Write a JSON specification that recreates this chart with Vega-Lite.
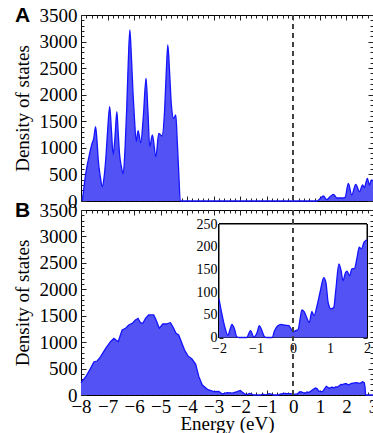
{
  "$schema": "https://vega.github.io/schema/vega-lite/v6.json",
  "background": "white",
  "padding": {"left": 12, "top": 4, "right": 0, "bottom": 0},
  "config": {
    "font": "Liberation Serif",
    "view": {"stroke": "black", "strokeWidth": 1},
    "axis": {
      "labelFont": "Liberation Serif", "titleFont": "Liberation Serif",
      "labelFontSize": 19, "titleFontSize": 19, "titleFontWeight": "normal",
      "labelColor": "black", "titleColor": "black", "labelOverlap": false, "labelFlush": false, "labelBound": false,
      "domain": false, "grid": false, "tickColor": "#222", "tickSize": -5, "labelPadding": 9
    }
  },
  "datasets": {
    "a": [
      {"E": -7.95, "D": 0}, {"E": -7.88, "D": 300}, {"E": -7.82, "D": 521}, {"E": -7.7, "D": 834},
      {"E": -7.58, "D": 1086}, {"E": -7.52, "D": 1180}, {"E": -7.45, "D": 1398}, {"E": -7.4, "D": 1150},
      {"E": -7.35, "D": 772}, {"E": -7.27, "D": 450}, {"E": -7.2, "D": 270}, {"E": -7.13, "D": 450},
      {"E": -7.07, "D": 772}, {"E": -7.0, "D": 1300}, {"E": -6.92, "D": 1775}, {"E": -6.85, "D": 1300},
      {"E": -6.79, "D": 866}, {"E": -6.72, "D": 1200}, {"E": -6.65, "D": 1681}, {"E": -6.6, "D": 1300},
      {"E": -6.55, "D": 898}, {"E": -6.48, "D": 650}, {"E": -6.41, "D": 508}, {"E": -6.34, "D": 1000},
      {"E": -6.28, "D": 1713}, {"E": -6.22, "D": 2600}, {"E": -6.16, "D": 3218}, {"E": -6.1, "D": 2700},
      {"E": -6.04, "D": 2027}, {"E": -5.98, "D": 1500}, {"E": -5.92, "D": 1116}, {"E": -5.85, "D": 1323},
      {"E": -5.75, "D": 1097}, {"E": -5.65, "D": 1600}, {"E": -5.55, "D": 2309}, {"E": -5.48, "D": 1700},
      {"E": -5.41, "D": 1022}, {"E": -5.31, "D": 1242}, {"E": -5.18, "D": 834}, {"E": -5.07, "D": 1274},
      {"E": -4.95, "D": 1223}, {"E": -4.85, "D": 1713}, {"E": -4.79, "D": 2400}, {"E": -4.73, "D": 2936},
      {"E": -4.66, "D": 2400}, {"E": -4.6, "D": 1839}, {"E": -4.51, "D": 1556}, {"E": -4.43, "D": 1618},
      {"E": -4.37, "D": 1086}, {"E": -4.31, "D": 450}, {"E": -4.26, "D": 0},
      {"E": 0.88, "D": 0}, {"E": 1.0, "D": 40}, {"E": 1.13, "D": 94}, {"E": 1.26, "D": 25},
      {"E": 1.38, "D": 80}, {"E": 1.51, "D": 126}, {"E": 1.64, "D": 56}, {"E": 1.86, "D": 56},
      {"E": 1.95, "D": 69}, {"E": 2.07, "D": 333}, {"E": 2.2, "D": 113}, {"E": 2.35, "D": 314},
      {"E": 2.49, "D": 176}, {"E": 2.61, "D": 301}, {"E": 2.67, "D": 250}, {"E": 2.79, "D": 427},
      {"E": 2.86, "D": 301}, {"E": 2.95, "D": 395}, {"E": 3.0, "D": 380}
    ],
    "b": [
      {"E": -8.0, "D": 233}, {"E": -7.82, "D": 346}, {"E": -7.64, "D": 504}, {"E": -7.51, "D": 630},
      {"E": -7.39, "D": 643}, {"E": -7.26, "D": 725}, {"E": -7.07, "D": 883}, {"E": -6.89, "D": 1009},
      {"E": -6.76, "D": 1072}, {"E": -6.6, "D": 1009}, {"E": -6.45, "D": 1230}, {"E": -6.32, "D": 1262},
      {"E": -6.2, "D": 1324}, {"E": -6.07, "D": 1356}, {"E": -5.95, "D": 1419}, {"E": -5.85, "D": 1451},
      {"E": -5.76, "D": 1368}, {"E": -5.67, "D": 1356}, {"E": -5.57, "D": 1451}, {"E": -5.45, "D": 1514},
      {"E": -5.26, "D": 1514}, {"E": -5.17, "D": 1419}, {"E": -5.05, "D": 1262}, {"E": -4.92, "D": 1343},
      {"E": -4.8, "D": 1343}, {"E": -4.63, "D": 1368}, {"E": -4.54, "D": 1292}, {"E": -4.42, "D": 1167},
      {"E": -4.32, "D": 1135}, {"E": -4.22, "D": 1009}, {"E": -4.1, "D": 851}, {"E": -3.97, "D": 740},
      {"E": -3.82, "D": 680}, {"E": -3.68, "D": 580}, {"E": -3.56, "D": 347}, {"E": -3.43, "D": 189},
      {"E": -3.24, "D": 107}, {"E": -3.0, "D": 63}, {"E": -2.81, "D": 70}, {"E": -2.68, "D": 20},
      {"E": -2.49, "D": 44}, {"E": -2.3, "D": 35}, {"E": -2.12, "D": 63},
      {"E": -2.0, "D": 85}, {"E": -1.93, "D": 55}, {"E": -1.84, "D": 22}, {"E": -1.76, "D": 5},
      {"E": -1.7, "D": 18}, {"E": -1.65, "D": 29}, {"E": -1.58, "D": 18}, {"E": -1.52, "D": 1.5},
      {"E": -1.45, "D": 0}, {"E": -1.25, "D": 0}, {"E": -1.15, "D": 15}, {"E": -1.06, "D": 1.5},
      {"E": -0.97, "D": 11}, {"E": -0.91, "D": 26}, {"E": -0.84, "D": 15}, {"E": -0.77, "D": 1.5},
      {"E": -0.7, "D": 0}, {"E": -0.56, "D": 0}, {"E": -0.5, "D": 15}, {"E": -0.41, "D": 26},
      {"E": -0.32, "D": 29}, {"E": -0.23, "D": 27}, {"E": -0.11, "D": 26}, {"E": -0.06, "D": 20},
      {"E": 0.01, "D": 12.5}, {"E": 0.07, "D": 15}, {"E": 0.14, "D": 18}, {"E": 0.19, "D": 40},
      {"E": 0.24, "D": 61}, {"E": 0.3, "D": 57}, {"E": 0.37, "D": 44}, {"E": 0.44, "D": 33},
      {"E": 0.51, "D": 57}, {"E": 0.57, "D": 48}, {"E": 0.65, "D": 70}, {"E": 0.74, "D": 103},
      {"E": 0.83, "D": 132}, {"E": 0.89, "D": 121}, {"E": 0.95, "D": 77}, {"E": 1.03, "D": 63},
      {"E": 1.1, "D": 66}, {"E": 1.16, "D": 107}, {"E": 1.24, "D": 162}, {"E": 1.3, "D": 147},
      {"E": 1.35, "D": 125}, {"E": 1.42, "D": 143}, {"E": 1.46, "D": 146}, {"E": 1.53, "D": 136},
      {"E": 1.59, "D": 151}, {"E": 1.66, "D": 152}, {"E": 1.74, "D": 180}, {"E": 1.79, "D": 199},
      {"E": 1.85, "D": 195}, {"E": 1.92, "D": 210}, {"E": 1.96, "D": 213}, {"E": 2.0, "D": 215},
      {"E": 2.07, "D": 189}, {"E": 2.19, "D": 221}, {"E": 2.38, "D": 233}, {"E": 2.51, "D": 221},
      {"E": 2.61, "D": 252}, {"E": 2.67, "D": 233}, {"E": 2.7, "D": 150}, {"E": 2.72, "D": 0},
      {"E": 3.0, "D": 0}
    ]
  },
  "spacing": 9,
  "bounds": "flush",
  "vconcat": [
    {
      "width": 292, "height": 186,
      "title": {"text": "A", "anchor": "start", "frame": "group", "font": "Liberation Sans", "fontWeight": "bold", "fontSize": 21, "color": "black", "offset": 0, "dx": -66, "dy": 19.5},
      "resolve": {"axis": {"x": "independent", "y": "independent"}},
      "layer": [
        {
          "data": {"name": "a"},
          "mark": {"type": "area", "interpolate": "monotone", "color": "#5252f5", "opacity": 1, "line": {"color": "#1414ff", "strokeWidth": 1.3}},
          "encoding": {
            "x": {"field": "E", "type": "quantitative", "scale": {"domain": [-8, 3], "nice": false, "zero": false},
                  "axis": {"orient": "bottom", "labels": false, "title": null, "values": [-8,-7,-6,-5,-4,-3,-2,-1,0,1,2,3]}},
            "y": {"field": "D", "type": "quantitative", "scale": {"domain": [0, 3500], "nice": false},
                  "axis": {"orient": "left", "title": "Density of states", "titlePadding": 7, "format": "d", "values": [0,500,1000,1500,2000,2500,3000,3500]}}
          }
        },
        {
          "data": {"name": "a"},
          "mark": {"type": "point", "opacity": 0},
          "encoding": {
            "x": {"datum": 0, "type": "quantitative", "scale": {"domain": [-8, 3], "nice": false, "zero": false},
                  "axis": {"orient": "top", "labels": false, "title": null, "values": [-8,-7,-6,-5,-4,-3,-2,-1,0,1,2,3]}},
            "y": {"datum": 0, "type": "quantitative", "scale": {"domain": [0, 3500], "nice": false},
                  "axis": {"orient": "right", "labels": false, "title": null, "values": [0,500,1000,1500,2000,2500,3000,3500]}}
          }
        },
        {
          "data": {"name": "a"},
          "mark": {"type": "point", "opacity": 0},
          "encoding": {
            "x": {"datum": 0, "type": "quantitative", "scale": {"domain": [-8, 3], "nice": false, "zero": false},
                  "axis": {"orient": "bottom", "labels": false, "title": null, "tickSize": -3, "values": [-7.8,-7.6,-7.4,-7.2,-6.8,-6.6,-6.4,-6.2,-5.8,-5.6,-5.4,-5.2,-4.8,-4.6,-4.4,-4.2,-3.8,-3.6,-3.4,-3.2,-2.8,-2.6,-2.4,-2.2,-1.8,-1.6,-1.4,-1.2,-0.8,-0.6,-0.4,-0.2,0.2,0.4,0.6,0.8,1.2,1.4,1.6,1.8,2.2,2.4,2.6,2.8]}},
            "y": {"datum": 0, "type": "quantitative", "scale": {"domain": [0, 3500], "nice": false},
                  "axis": {"orient": "left", "labels": false, "title": null, "tickSize": -3, "values": [100,200,300,400,600,700,800,900,1100,1200,1300,1400,1600,1700,1800,1900,2100,2200,2300,2400,2600,2700,2800,2900,3100,3200,3300,3400]}}
          }
        },
        {
          "data": {"name": "a"},
          "mark": {"type": "point", "opacity": 0},
          "encoding": {
            "x": {"datum": 0, "type": "quantitative", "scale": {"domain": [-8, 3], "nice": false, "zero": false},
                  "axis": {"orient": "top", "labels": false, "title": null, "tickSize": -3, "values": [-7.8,-7.6,-7.4,-7.2,-6.8,-6.6,-6.4,-6.2,-5.8,-5.6,-5.4,-5.2,-4.8,-4.6,-4.4,-4.2,-3.8,-3.6,-3.4,-3.2,-2.8,-2.6,-2.4,-2.2,-1.8,-1.6,-1.4,-1.2,-0.8,-0.6,-0.4,-0.2,0.2,0.4,0.6,0.8,1.2,1.4,1.6,1.8,2.2,2.4,2.6,2.8]}},
            "y": {"datum": 0, "type": "quantitative", "scale": {"domain": [0, 3500], "nice": false},
                  "axis": {"orient": "right", "labels": false, "title": null, "tickSize": -3, "values": [100,200,300,400,600,700,800,900,1100,1200,1300,1400,1600,1700,1800,1900,2100,2200,2300,2400,2600,2700,2800,2900,3100,3200,3300,3400]}}
          }
        },
        {
          "data": {"name": "a"},
          "mark": {"type": "rule", "color": "#444", "strokeDash": [5, 4], "strokeWidth": 1},
          "encoding": {
            "x": {"datum": 0, "type": "quantitative", "scale": {"domain": [-8, 3], "nice": false, "zero": false}, "axis": null}
          }
        }
      ]
    },
    {
      "width": 292, "height": 185,
      "title": {"text": "B", "anchor": "start", "frame": "group", "font": "Liberation Sans", "fontWeight": "bold", "fontSize": 21, "color": "black", "offset": 0, "dx": -66, "dy": 19.5},
      "resolve": {"scale": {"x": "independent", "y": "independent"}, "axis": {"x": "independent", "y": "independent"}},
      "layer": [
        {
          "data": {"name": "b"},
          "mark": {"type": "area", "interpolate": "linear", "color": "#5252f5", "opacity": 1, "line": {"color": "#1414ff", "strokeWidth": 1.3}},
          "encoding": {
            "x": {"field": "E", "type": "quantitative", "scale": {"domain": [-8, 3], "nice": false, "zero": false},
                  "axis": {"orient": "bottom", "title": "Energy (eV)", "titlePadding": -2, "labelPadding": 7, "format": "d", "values": [-8,-7,-6,-5,-4,-3,-2,-1,0,1,2,3]}},
            "y": {"field": "D", "type": "quantitative", "scale": {"domain": [0, 3500], "nice": false},
                  "axis": {"orient": "left", "title": "Density of states", "titlePadding": 7, "format": "d", "values": [0,500,1000,1500,2000,2500,3000,3500]}}
          }
        },
        {
          "data": {"name": "b"},
          "mark": {"type": "point", "opacity": 0},
          "encoding": {
            "x": {"datum": 0, "type": "quantitative", "scale": {"domain": [-8, 3], "nice": false, "zero": false},
                  "axis": {"orient": "top", "labels": false, "title": null, "values": [-8,-7,-6,-5,-4,-3,-2,-1,0,1,2,3]}},
            "y": {"datum": 0, "type": "quantitative", "scale": {"domain": [0, 3500], "nice": false},
                  "axis": {"orient": "right", "labels": false, "title": null, "values": [0,500,1000,1500,2000,2500,3000,3500]}}
          }
        },
        {
          "data": {"name": "b"},
          "mark": {"type": "point", "opacity": 0},
          "encoding": {
            "x": {"datum": 0, "type": "quantitative", "scale": {"domain": [-8, 3], "nice": false, "zero": false},
                  "axis": {"orient": "bottom", "labels": false, "title": null, "tickSize": -3, "values": [-7.8,-7.6,-7.4,-7.2,-6.8,-6.6,-6.4,-6.2,-5.8,-5.6,-5.4,-5.2,-4.8,-4.6,-4.4,-4.2,-3.8,-3.6,-3.4,-3.2,-2.8,-2.6,-2.4,-2.2,-1.8,-1.6,-1.4,-1.2,-0.8,-0.6,-0.4,-0.2,0.2,0.4,0.6,0.8,1.2,1.4,1.6,1.8,2.2,2.4,2.6,2.8]}},
            "y": {"datum": 0, "type": "quantitative", "scale": {"domain": [0, 3500], "nice": false},
                  "axis": {"orient": "left", "labels": false, "title": null, "tickSize": -3, "values": [100,200,300,400,600,700,800,900,1100,1200,1300,1400,1600,1700,1800,1900,2100,2200,2300,2400,2600,2700,2800,2900,3100,3200,3300,3400]}}
          }
        },
        {
          "data": {"name": "b"},
          "mark": {"type": "point", "opacity": 0},
          "encoding": {
            "x": {"datum": 0, "type": "quantitative", "scale": {"domain": [-8, 3], "nice": false, "zero": false},
                  "axis": {"orient": "top", "labels": false, "title": null, "tickSize": -3, "values": [-7.8,-7.6,-7.4,-7.2,-6.8,-6.6,-6.4,-6.2,-5.8,-5.6,-5.4,-5.2,-4.8,-4.6,-4.4,-4.2,-3.8,-3.6,-3.4,-3.2,-2.8,-2.6,-2.4,-2.2,-1.8,-1.6,-1.4,-1.2,-0.8,-0.6,-0.4,-0.2,0.2,0.4,0.6,0.8,1.2,1.4,1.6,1.8,2.2,2.4,2.6,2.8]}},
            "y": {"datum": 0, "type": "quantitative", "scale": {"domain": [0, 3500], "nice": false},
                  "axis": {"orient": "right", "labels": false, "title": null, "tickSize": -3, "values": [100,200,300,400,600,700,800,900,1100,1200,1300,1400,1600,1700,1800,1900,2100,2200,2300,2400,2600,2700,2800,2900,3100,3200,3300,3400]}}
          }
        },
        {
          "data": {"name": "b"},
          "mark": {"type": "rect", "fill": "white", "stroke": "black", "strokeWidth": 1},
          "encoding": {
            "x": {"datum": -2, "type": "quantitative", "scale": {"domain": [-2, 2], "nice": false, "zero": false, "range": [138, 286]}, "axis": null},
            "x2": {"datum": 2},
            "y": {"datum": 0, "type": "quantitative", "scale": {"domain": [0, 250], "nice": false, "range": [127.5, 14]}, "axis": null},
            "y2": {"datum": 250}
          }
        },
        {
          "data": {"name": "b"},
          "transform": [{"filter": "datum.E >= -2 && datum.E <= 2"}],
          "mark": {"type": "area", "interpolate": "monotone", "color": "#5252f5", "opacity": 1, "line": {"color": "#1414ff", "strokeWidth": 1.3}},
          "encoding": {
            "x": {"field": "E", "type": "quantitative", "scale": {"domain": [-2, 2], "nice": false, "zero": false, "range": [138, 286]},
                  "axis": {"orient": "bottom", "offset": -57.5, "title": null, "labelFontSize": 14, "labelPadding": 8, "tickSize": -4, "format": "d", "values": [-2,-1,0,1,2]}},
            "y": {"field": "D", "type": "quantitative", "scale": {"domain": [0, 250], "nice": false, "range": [127.5, 14]},
                  "axis": {"orient": "left", "offset": -138, "title": null, "labelFontSize": 14, "labelPadding": 6, "tickSize": -4, "format": "d", "values": [0,50,100,150,200,250]}}
          }
        },
        {
          "data": {"name": "b"},
          "mark": {"type": "point", "opacity": 0},
          "encoding": {
            "x": {"datum": 0, "type": "quantitative", "scale": {"domain": [-2, 2], "nice": false, "zero": false, "range": [138, 286]},
                  "axis": {"orient": "top", "offset": -14, "labels": false, "title": null, "tickSize": -4, "values": [-2,-1,0,1,2]}},
            "y": {"datum": 0, "type": "quantitative", "scale": {"domain": [0, 250], "nice": false, "range": [127.5, 14]},
                  "axis": {"orient": "right", "offset": -6, "labels": false, "title": null, "tickSize": -4, "values": [0,50,100,150,200,250]}}
          }
        },
        {
          "data": {"name": "b"},
          "mark": {"type": "rule", "color": "#444", "strokeDash": [5, 4], "strokeWidth": 1},
          "encoding": {
            "x": {"datum": 0, "type": "quantitative", "scale": {"domain": [-8, 3], "nice": false, "zero": false}, "axis": null}
          }
        }
      ]
    }
  ]
}
